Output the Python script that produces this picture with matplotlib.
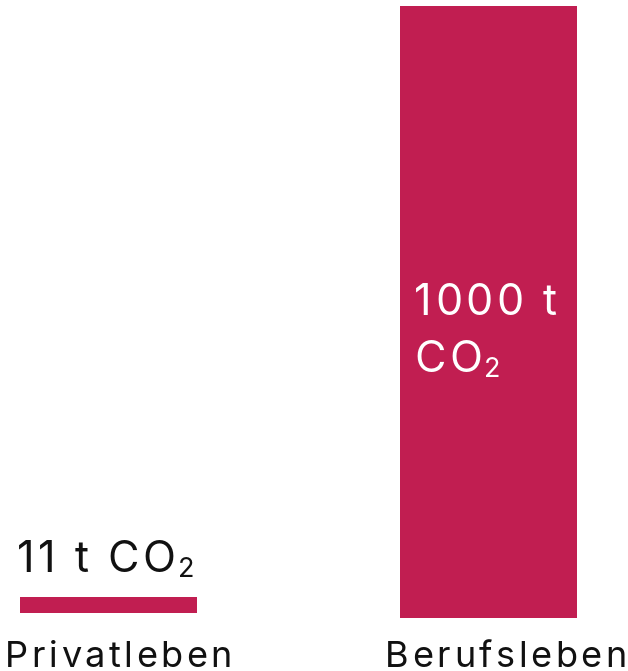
import matplotlib
matplotlib.use("Agg")
import matplotlib.pyplot as plt
from matplotlib import font_manager
from matplotlib.font_manager import FontProperties
from matplotlib.ft2font import FT2Font

# data
categories = ["Privatleben", "Berufsleben"]
values = [11, 1000]
# value labels: list of lines, each line is (main text, subscript)
value_labels = [
    [("11 t CO", "2")],
    [("1000 t", ""), ("CO", "2")],
]

BAR_COLOR = "#C11E51"
TEXT_COLOR = "#111111"
FONT = "Inter"
MIN_H = 26      # small bars get a minimal visible height
SMALL_BOTTOM = 8
TRACK = 3.5     # extra letter spacing in pixels (the source font is wide)

plt.rcParams["font.family"] = [FONT, "DejaVu Sans"]

fig = plt.figure(figsize=(6.28, 6.71), dpi=100)
ax = fig.add_axes([0, 0, 1, 1])
ax.set_xlim(-0.2855, 1.367)
ax.set_ylim(-86.6, 1009.8)
ax.axis("off")

ft = FT2Font(font_manager.findfont(FontProperties(family=FONT)), hinting_factor=1)


def advance(ch, size):
    ft.set_size(size, fig.dpi)
    return ft.load_char(ord(ch)).linearHoriAdvance / 65536.0


def spaced(xy, s, dx, dy, size, color, sub=""):
    # draw text letter by letter with extra tracking, optional subscript at the end
    x = dx
    for ch in s:
        if ch != " ":
            ax.annotate(ch, xy, xytext=(x, dy), textcoords="offset pixels",
                        ha="left", va="baseline", fontsize=size, color=color)
        x += advance(ch, size) + TRACK
    if sub:
        ax.annotate(sub, xy, xytext=(x - 1, dy - 5), textcoords="offset pixels",
                    ha="left", va="baseline", fontsize=size * 0.63, color=color)


x = list(range(len(categories)))
heights = [max(v, MIN_H) for v in values]
bottoms = [SMALL_BOTTOM if v < MIN_H else 0 for v in values]
bars = ax.bar(x, heights, width=0.466, bottom=bottoms, color=BAR_COLOR)

for i, b in enumerate(bars):
    left = b.get_x()
    lines = value_labels[i]
    if values[i] < 200:
        txt, sub = lines[0]
        spaced((left, b.get_y() + b.get_height()), txt, -3, 25, 31, TEXT_COLOR, sub)
    else:
        for j, (txt, sub) in enumerate(lines):
            spaced((left, b.get_height() / 2), txt, 14, -3 - 57 * j, 31, "white", sub)
    spaced((left, 0), categories[i], -15, -49, 26, TEXT_COLOR)

fig.savefig("out.png", dpi=100)
